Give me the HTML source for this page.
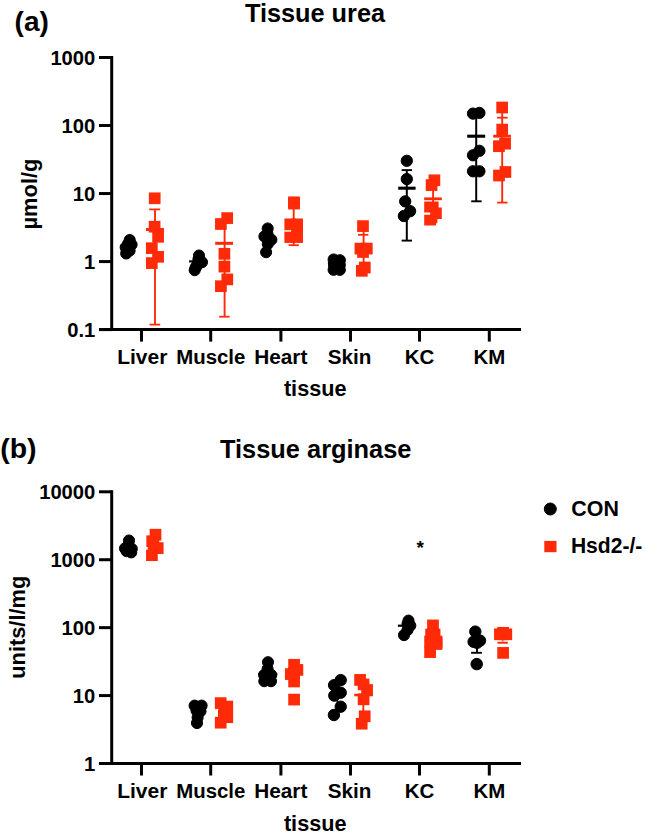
<!DOCTYPE html>
<html><head><meta charset="utf-8"><title>Tissue urea and arginase</title>
<style>
html,body{margin:0;padding:0;background:#fff;}
body{width:645px;height:834px;overflow:hidden;}
svg{display:block;}
text{font-family:"Liberation Sans",sans-serif;font-weight:bold;}
</style></head><body>
<svg width="645" height="834" viewBox="0 0 645 834">
<rect width="645" height="834" fill="#fff"/>
<g fill="#000">
<text x="14.6" y="30.9" font-size="28" text-anchor="start">(a)</text>
<text x="244.9" y="21.8" font-size="25.3" text-anchor="start">Tissue urea</text>
</g>
<g stroke="#000" fill="none" stroke-width="3" stroke-linecap="butt">
<path d="M111.7 56.0 V331.1"/>
<path d="M99 329.6 H521"/>
<path d="M99 57.50 H111.7"/>
<path d="M99 125.53 H111.7"/>
<path d="M99 193.55 H111.7"/>
<path d="M99 261.58 H111.7"/>
<path d="M99 329.60 H111.7"/>
<path d="M141.5 329.6 V341.6"/>
<path d="M210.7 329.6 V341.6"/>
<path d="M280.9 329.6 V341.6"/>
<path d="M350.5 329.6 V341.6"/>
<path d="M419.5 329.6 V341.6"/>
<path d="M489.3 329.6 V341.6"/>
</g>
<g fill="#000">
<text x="95.3" y="64.50" font-size="20.2" text-anchor="end">1000</text>
<text x="95.3" y="132.53" font-size="20.2" text-anchor="end">100</text>
<text x="95.3" y="200.55" font-size="20.2" text-anchor="end">10</text>
<text x="95.3" y="268.58" font-size="20.2" text-anchor="end">1</text>
<text x="95.3" y="336.60" font-size="20.2" text-anchor="end">0.1</text>
</g>
<g fill="#000">
<text x="117.2" y="364.2" font-size="20.3" text-anchor="start" textLength="50.2" lengthAdjust="spacingAndGlyphs">Liver</text>
<text x="176.2" y="364.2" font-size="20.3" text-anchor="start" textLength="69.2" lengthAdjust="spacingAndGlyphs">Muscle</text>
<text x="254.2" y="364.2" font-size="20.3" text-anchor="start" textLength="53.2" lengthAdjust="spacingAndGlyphs">Heart</text>
<text x="327.7" y="364.2" font-size="20.3" text-anchor="start" textLength="43.7" lengthAdjust="spacingAndGlyphs">Skin</text>
<text x="404.8" y="364.2" font-size="20.3" text-anchor="start" textLength="29.6" lengthAdjust="spacingAndGlyphs">KC</text>
<text x="473.59999999999997" y="364.2" font-size="20.3" text-anchor="start" textLength="31.8" lengthAdjust="spacingAndGlyphs">KM</text>
<text x="283.9" y="396.2" font-size="21.7" text-anchor="start">tissue</text>
<text transform="translate(36.8,229.5) rotate(-90)" font-size="21.9">µmol/g</text>
</g>
<g fill="#000" stroke="#000">
<line x1="119.9" y1="245.9" x2="134" y2="245.9" stroke-width="2.2"/>
<circle cx="129.7" cy="240" r="5.55"/>
<circle cx="131.6" cy="244.6" r="5.55"/>
<circle cx="125.7" cy="247.5" r="5.55"/>
<circle cx="126.2" cy="253.5" r="5.55"/>
<circle cx="129.6" cy="250.6" r="5.55"/>
<circle cx="128" cy="244" r="5.55"/>
<line x1="189.1" y1="261.4" x2="206" y2="261.4" stroke-width="2.2"/>
<circle cx="199" cy="255.5" r="5.55"/>
<circle cx="202" cy="262.2" r="5.55"/>
<circle cx="194.7" cy="270.2" r="5.55"/>
<circle cx="197" cy="265.5" r="5.55"/>
<circle cx="198.4" cy="259.5" r="5.55"/>
<circle cx="195.6" cy="267.5" r="5.55"/>
<circle cx="267.7" cy="228.5" r="5.55"/>
<circle cx="264.4" cy="236.4" r="5.55"/>
<circle cx="271.4" cy="239.7" r="5.55"/>
<circle cx="267.8" cy="244" r="5.55"/>
<circle cx="266.1" cy="252.2" r="5.55"/>
<circle cx="267.5" cy="234" r="5.55"/>
<line x1="327.9" y1="262.9" x2="340" y2="262.9" stroke-width="2.2"/>
<circle cx="333.6" cy="259.5" r="5.55"/>
<circle cx="339.9" cy="260.2" r="5.55"/>
<circle cx="333.6" cy="269.8" r="5.55"/>
<circle cx="339.8" cy="269.9" r="5.55"/>
<circle cx="336.5" cy="264.5" r="5.55"/>
<circle cx="334" cy="265" r="5.55"/>
<circle cx="339.8" cy="265" r="5.55"/>
<line x1="406.8" y1="170" x2="406.8" y2="240.6" stroke-width="2"/>
<line x1="401.6" y1="170.1" x2="412" y2="170.1" stroke-width="1.9"/>
<line x1="401.6" y1="240.6" x2="412" y2="240.6" stroke-width="1.9"/>
<line x1="398.2" y1="188.2" x2="415.6" y2="188.2" stroke-width="3.1"/>
<circle cx="406.8" cy="160.8" r="5.65"/>
<circle cx="406.8" cy="179.1" r="5.65"/>
<circle cx="405.2" cy="201.4" r="5.65"/>
<circle cx="410.1" cy="211.2" r="5.65"/>
<circle cx="403.9" cy="216" r="5.65"/>
<line x1="476.2" y1="113" x2="476.2" y2="201.3" stroke-width="2"/>
<line x1="471.2" y1="201.3" x2="481.6" y2="201.3" stroke-width="1.9"/>
<line x1="467.2" y1="136.2" x2="485.2" y2="136.2" stroke-width="3.1"/>
<circle cx="473" cy="113.6" r="5.65"/>
<circle cx="479.4" cy="112.9" r="5.65"/>
<circle cx="479.4" cy="150.8" r="5.65"/>
<circle cx="473" cy="155.3" r="5.65"/>
<circle cx="473" cy="171.3" r="5.65"/>
<circle cx="479.4" cy="171.3" r="5.65"/>
</g>
<g fill="#ff2a08" stroke="#ff2a08" stroke-width="0">
<line x1="155" y1="209.4" x2="155" y2="324.6" stroke-width="1.9"/>
<line x1="149.2" y1="209.4" x2="160.2" y2="209.4" stroke-width="1.8"/>
<line x1="149.6" y1="324.6" x2="160.2" y2="324.6" stroke-width="1.8"/>
<line x1="146" y1="229.5" x2="164" y2="229.5" stroke-width="3"/>
<rect x="148.85" y="192.45" width="11.7" height="11.7"/>
<rect x="148.75" y="220.85" width="11.7" height="11.7"/>
<rect x="152.25" y="230.95" width="11.7" height="11.7"/>
<rect x="145.95" y="242.35" width="11.7" height="11.7"/>
<rect x="152.25" y="250.95" width="11.7" height="11.7"/>
<rect x="145.95" y="257.25" width="11.7" height="11.7"/>
<line x1="224.6" y1="220" x2="224.6" y2="316.7" stroke-width="1.9"/>
<line x1="219.2" y1="316.7" x2="229.6" y2="316.7" stroke-width="1.8"/>
<line x1="215.2" y1="243.3" x2="233" y2="243.3" stroke-width="3"/>
<rect x="221.35" y="212.25" width="11.7" height="11.7"/>
<rect x="215.05" y="218.15" width="11.7" height="11.7"/>
<rect x="218.55" y="247.95" width="11.7" height="11.7"/>
<rect x="218.55" y="260.75" width="11.7" height="11.7"/>
<rect x="221.45" y="273.55" width="11.7" height="11.7"/>
<rect x="215.05" y="280.35" width="11.7" height="11.7"/>
<line x1="293.7" y1="203" x2="293.7" y2="245.2" stroke-width="1.9"/>
<line x1="288.6" y1="245.2" x2="298.8" y2="245.2" stroke-width="1.8"/>
<rect x="288.15" y="196.45" width="11.7" height="11.7"/>
<rect x="288.15" y="197.75" width="11.7" height="11.7"/>
<rect x="284.40" y="218.50" width="11.7" height="11.7"/>
<rect x="291.30" y="218.50" width="11.7" height="11.7"/>
<rect x="291.30" y="225.15" width="11.7" height="11.7"/>
<rect x="284.40" y="231.20" width="11.7" height="11.7"/>
<rect x="291.30" y="231.20" width="11.7" height="11.7"/>
<line x1="284.2" y1="231.2" x2="291" y2="231.2" stroke="#ffc9bd" stroke-width="1.4"/>
<line x1="363.6" y1="226" x2="363.6" y2="272" stroke-width="1.9"/>
<line x1="358" y1="234.8" x2="368.4" y2="234.8" stroke-width="1.8"/>
<rect x="357.15" y="220.25" width="11.7" height="11.7"/>
<rect x="354.55" y="242.75" width="11.7" height="11.7"/>
<rect x="360.95" y="242.75" width="11.7" height="11.7"/>
<rect x="357.15" y="246.15" width="11.7" height="11.7"/>
<rect x="358.95" y="261.65" width="11.7" height="11.7"/>
<rect x="355.95" y="264.95" width="11.7" height="11.7"/>
<line x1="433.1" y1="180" x2="433.1" y2="222" stroke-width="1.9"/>
<line x1="424.2" y1="198.8" x2="441.8" y2="198.8" stroke-width="2.8"/>
<rect x="428.55" y="174.45" width="11.7" height="11.7"/>
<rect x="425.75" y="179.25" width="11.7" height="11.7"/>
<path d="M424.2 201.6H438.6V207.6H441.8V219H437.4V223.2H436V225.6H424.2V214.8H430.2V212.5H424.2Z"/>
<line x1="502.2" y1="108" x2="502.2" y2="202.6" stroke-width="1.9"/>
<line x1="497.1" y1="117.7" x2="507.6" y2="117.7" stroke-width="1.8"/>
<line x1="497.1" y1="202.6" x2="507.6" y2="202.6" stroke-width="1.8"/>
<line x1="493.2" y1="136.2" x2="510.9" y2="136.2" stroke-width="2.9"/>
<rect x="496.30" y="101.65" width="11.7" height="11.7"/>
<rect x="496.35" y="123.75" width="11.7" height="11.7"/>
<rect x="499.25" y="137.85" width="11.7" height="11.7"/>
<rect x="493.05" y="140.35" width="11.7" height="11.7"/>
<rect x="499.55" y="166.15" width="11.7" height="11.7"/>
<rect x="493.15" y="169.65" width="11.7" height="11.7"/>
</g>
<g fill="#000">
<text x="0.2" y="458.2" font-size="28.5" text-anchor="start">(b)</text>
<text x="220.0" y="457.8" font-size="25.4" text-anchor="start">Tissue arginase</text>
</g>
<g stroke="#000" fill="none" stroke-width="3" stroke-linecap="butt">
<path d="M111.7 490.3 V765.0"/>
<path d="M99 763.5 H521"/>
<path d="M99 491.80 H111.7"/>
<path d="M99 559.73 H111.7"/>
<path d="M99 627.65 H111.7"/>
<path d="M99 695.58 H111.7"/>
<path d="M99 763.50 H111.7"/>
<path d="M141.5 763.5 V775.5"/>
<path d="M210.7 763.5 V775.5"/>
<path d="M280.9 763.5 V775.5"/>
<path d="M350.5 763.5 V775.5"/>
<path d="M419.5 763.5 V775.5"/>
<path d="M489.3 763.5 V775.5"/>
</g>
<g fill="#000">
<text x="95.3" y="498.80" font-size="20.2" text-anchor="end">10000</text>
<text x="95.3" y="566.73" font-size="20.2" text-anchor="end">1000</text>
<text x="95.3" y="634.65" font-size="20.2" text-anchor="end">100</text>
<text x="95.3" y="702.58" font-size="20.2" text-anchor="end">10</text>
<text x="95.3" y="770.50" font-size="20.2" text-anchor="end">1</text>
</g>
<g fill="#000">
<text x="117.2" y="798.2" font-size="20.3" text-anchor="start" textLength="50.2" lengthAdjust="spacingAndGlyphs">Liver</text>
<text x="176.2" y="798.2" font-size="20.3" text-anchor="start" textLength="69.2" lengthAdjust="spacingAndGlyphs">Muscle</text>
<text x="254.2" y="798.2" font-size="20.3" text-anchor="start" textLength="53.2" lengthAdjust="spacingAndGlyphs">Heart</text>
<text x="327.7" y="798.2" font-size="20.3" text-anchor="start" textLength="43.7" lengthAdjust="spacingAndGlyphs">Skin</text>
<text x="404.8" y="798.2" font-size="20.3" text-anchor="start" textLength="29.6" lengthAdjust="spacingAndGlyphs">KC</text>
<text x="473.59999999999997" y="798.2" font-size="20.3" text-anchor="start" textLength="31.8" lengthAdjust="spacingAndGlyphs">KM</text>
<text x="283.9" y="831.4" font-size="21.7" text-anchor="start">tissue</text>
<text transform="translate(24.7,678.7) rotate(-90)" font-size="21.8">units/l/mg</text>
<text x="416.6" y="554.0" font-size="19" text-anchor="start">*</text>
</g>
<g fill="#000" stroke="#000">
<circle cx="129" cy="540.5" r="5.55"/>
<circle cx="125" cy="548.4" r="5.55"/>
<circle cx="131.8" cy="548.8" r="5.55"/>
<circle cx="131.2" cy="552.4" r="5.55"/>
<circle cx="126.6" cy="551.2" r="5.55"/>
<circle cx="128.5" cy="545.5" r="5.55"/>
<circle cx="194.6" cy="705.6" r="5.55"/>
<circle cx="201.6" cy="705.6" r="5.55"/>
<circle cx="196.5" cy="710.5" r="5.55"/>
<circle cx="200.5" cy="711.3" r="5.55"/>
<circle cx="197.6" cy="717.5" r="5.55"/>
<circle cx="197" cy="723" r="5.55"/>
<line x1="258.3" y1="674" x2="277.2" y2="674" stroke-width="2"/>
<circle cx="268" cy="662.2" r="5.55"/>
<circle cx="267.6" cy="669" r="5.55"/>
<circle cx="264.1" cy="675" r="5.55"/>
<circle cx="271.3" cy="675" r="5.55"/>
<circle cx="264.3" cy="681.2" r="5.55"/>
<circle cx="271" cy="681.2" r="5.55"/>
<line x1="337.4" y1="682" x2="337.4" y2="714" stroke-width="1.6"/>
<circle cx="340.7" cy="680.1" r="5.7"/>
<circle cx="334.1" cy="685.2" r="5.7"/>
<circle cx="340.7" cy="692.7" r="5.7"/>
<circle cx="334.3" cy="695.6" r="5.7"/>
<circle cx="340.7" cy="706.7" r="5.7"/>
<circle cx="333.9" cy="715" r="5.7"/>
<line x1="397.9" y1="625.7" x2="410" y2="625.7" stroke-width="2.2"/>
<circle cx="408.5" cy="620.6" r="5.55"/>
<circle cx="410.3" cy="625.6" r="5.55"/>
<circle cx="407.5" cy="630" r="5.55"/>
<circle cx="404" cy="635.1" r="5.55"/>
<circle cx="407.5" cy="624" r="5.55"/>
<line x1="477" y1="631" x2="477" y2="653" stroke-width="1.9"/>
<line x1="471.1" y1="652.8" x2="481.9" y2="652.8" stroke-width="1.9"/>
<circle cx="475.3" cy="631.6" r="5.7"/>
<circle cx="473.6" cy="641.8" r="5.7"/>
<circle cx="480" cy="640.6" r="5.7"/>
<circle cx="477" cy="642.8" r="5.7"/>
<circle cx="476.7" cy="664.1" r="5.75"/>
<circle cx="550.3" cy="509" r="6"/>
<text x="571.3" y="515.8" font-size="21.4" text-anchor="start" stroke="none">CON</text>
<text x="570.9" y="553.3" font-size="21.3" text-anchor="start" textLength="71.5" lengthAdjust="spacingAndGlyphs" stroke="none">Hsd2-/-</text>
</g>
<g fill="#ff2a08" stroke="#ff2a08" stroke-width="0">
<rect x="149.65" y="528.85" width="11.7" height="11.7"/>
<rect x="147.55" y="535.75" width="11.7" height="11.7"/>
<rect x="146.35" y="535.45" width="11.7" height="11.7"/>
<rect x="151.85" y="542.25" width="11.7" height="11.7"/>
<rect x="147.55" y="542.15" width="11.7" height="11.7"/>
<rect x="146.05" y="549.35" width="11.7" height="11.7"/>
<rect x="145.6" y="547" width="2" height="2.6" fill="#fff"/>
<rect x="214.85" y="697.25" width="11.7" height="11.7"/>
<rect x="214.85" y="716.85" width="11.7" height="11.7"/>
<rect x="217.95" y="706.15" width="11.7" height="11.7"/>
<rect x="221.45" y="700.75" width="11.7" height="11.7"/>
<rect x="221.45" y="711.35" width="11.7" height="11.7"/>
<line x1="214.8" y1="709.5" x2="218.5" y2="709.5" stroke="#ffd5cc" stroke-width="1.2"/>
<rect x="288.25" y="658.95" width="11.7" height="11.7"/>
<rect x="288.25" y="667.15" width="11.7" height="11.7"/>
<rect x="288.25" y="675.65" width="11.7" height="11.7"/>
<rect x="284.95" y="668.25" width="11.7" height="11.7"/>
<rect x="291.55" y="664.05" width="11.7" height="11.7"/>
<rect x="288.25" y="693.75" width="11.7" height="11.7"/>
<line x1="363.3" y1="680" x2="363.3" y2="724" stroke-width="1.9"/>
<line x1="354.3" y1="695" x2="372.9" y2="695" stroke-width="2.6"/>
<rect x="354.25" y="674.05" width="11.7" height="11.7"/>
<rect x="357.75" y="678.55" width="11.7" height="11.7"/>
<rect x="361.25" y="684.15" width="11.7" height="11.7"/>
<rect x="357.75" y="693.45" width="11.7" height="11.7"/>
<rect x="358.85" y="710.45" width="11.7" height="11.7"/>
<rect x="355.85" y="717.85" width="11.7" height="11.7"/>
<rect x="427.15" y="619.55" width="11.7" height="11.7"/>
<rect x="425.25" y="628.65" width="11.7" height="11.7"/>
<rect x="428.75" y="628.65" width="11.7" height="11.7"/>
<rect x="424.25" y="635.65" width="11.7" height="11.7"/>
<rect x="430.75" y="635.65" width="11.7" height="11.7"/>
<rect x="430.75" y="638.15" width="11.7" height="11.7"/>
<rect x="424.25" y="646.25" width="11.7" height="11.7"/>
<line x1="502.7" y1="634" x2="502.7" y2="643" stroke-width="1.9"/>
<line x1="497.5" y1="642.7" x2="507.9" y2="642.7" stroke-width="2"/>
<rect x="494.05" y="628.45" width="11.7" height="11.7"/>
<rect x="500.45" y="628.45" width="11.7" height="11.7"/>
<rect x="497.25" y="626.95" width="11.7" height="11.7"/>
<rect x="497.25" y="647.05" width="11.7" height="11.7"/>
<line x1="497" y1="641.1" x2="508.5" y2="641.1" stroke="#ffd5cc" stroke-width="1"/>
<rect x="544.3" y="540.9" width="12.2" height="11.3"/>
</g>
</svg>
</body></html>
